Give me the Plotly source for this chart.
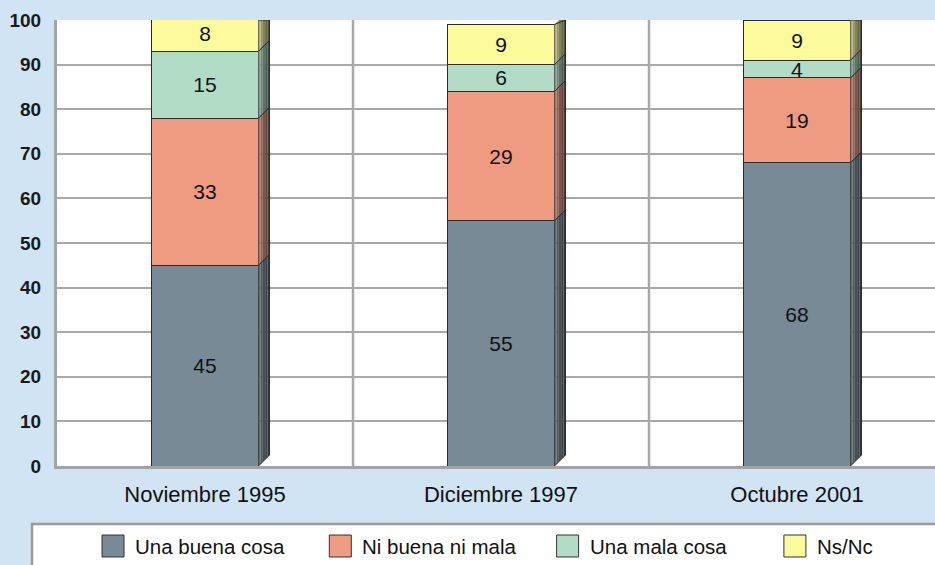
import plotly.graph_objects as go

# ---------------- data ----------------
categories = ["Noviembre 1995", "Diciembre 1997", "Octubre 2001"]
series_names = ["Una buena cosa", "Ni buena ni mala", "Una mala cosa", "Ns/Nc"]
una_buena_cosa = [45, 55, 68]
ni_buena_ni_mala = [33, 29, 19]
una_mala_cosa = [15, 6, 4]
ns_nc = [8, 9, 9]
y_ticks = [0, 10, 20, 30, 40, 50, 60, 70, 80, 90, 100]

series_values = [una_buena_cosa, ni_buena_ni_mala, una_mala_cosa, ns_nc]
colors = ["#788a95", "#ee9b82", "#b2dcc6", "#fbfb9b"]

# ---------------- geometry ----------------
FIG_W, FIG_H = 935, 565
L, T = 57, 20
W = FIG_W - L
H = 446
CAT_PX = 296.0                  # pixels per category
Y_MAX = 100
BAR_W = 107 / CAT_PX
DEPTH_PX = 11
x_lo = -0.5
x_hi = x_lo + W / CAT_PX
dx = DEPTH_PX / CAT_PX
dy = DEPTH_PX * Y_MAX / H

FONT = "Arial, Liberation Sans, Helvetica, sans-serif"


def px(xp):
    return (xp - L) / W


def py(yp):
    return (T + H - yp) / H


def hex_to_rgb(h):
    h = h.lstrip("#")
    return tuple(int(h[i:i + 2], 16) for i in (0, 2, 4))


def mix(c, dark, t):
    a = hex_to_rgb(c)
    b = hex_to_rgb(dark)
    return "rgb(%d,%d,%d)" % tuple(round(a[i] * (1 - t) + b[i] * t) for i in range(3))


fig = go.Figure()
xs = list(range(len(categories)))
for name, vals, col in zip(series_names, series_values, colors):
    fig.add_trace(go.Bar(
        x=xs, y=vals, name=name, width=BAR_W,
        marker=dict(color=col, line=dict(color="#2b2b2b", width=1)),
        text=[str(v) for v in vals], textposition="inside",
        insidetextanchor="middle", textangle=0,
        textfont=dict(family=FONT, size=21, color="#111111"),
        showlegend=False, hoverinfo="skip",
    ))

# 3D side faces
shapes = []
N_STRIPS = 5
for i in xs:
    base = 0
    xr = i + BAR_W / 2
    for vals, col in zip(series_values, colors):
        y0 = base
        y1 = base + vals[i]
        base = y1
        if y0 >= Y_MAX:
            continue
        y1c = min(y1, Y_MAX)
        for s in range(N_STRIPS):
            fa = s / N_STRIPS
            fb = (s + 1) / N_STRIPS
            xa, xb = xr + dx * fa, xr + dx * fb
            ya0, yb0 = y0 + dy * fa, y0 + dy * fb
            ya1 = min(y1c + dy * fa, Y_MAX)
            yb1 = min(y1c + dy * fb, Y_MAX)
            t = 0.3 + 0.55 * (s + 0.5) / N_STRIPS
            shapes.append(dict(
                type="path", xref="x", yref="y",
                path="M %f,%f L %f,%f L %f,%f L %f,%f Z" % (xa, ya0, xb, yb0, xb, yb1, xa, ya1),
                fillcolor=mix(col, "#262626", t), line=dict(width=0), layer="above"))
        top_r = min(y1c + dy, Y_MAX)
        shapes.append(dict(
            type="path", xref="x", yref="y",
            path="M %f,%f L %f,%f L %f,%f L %f,%f" % (xr, y1c, xr + dx, top_r, xr + dx, y0 + dy, xr, y0),
            line=dict(color="#2b2b2b", width=1), layer="above"))

# legend box
shapes.append(dict(type="rect", xref="paper", yref="paper",
                   x0=px(32), x1=px(960), y0=py(590), y1=py(524),
                   fillcolor="white", line=dict(color="#9a9a9a", width=2.5), layer="above"))
annotations = []
for k, (name, col) in enumerate(zip(series_names, colors)):
    sx = 102 + k * 227.3
    shapes.append(dict(type="rect", xref="paper", yref="paper",
                       x0=px(sx), x1=px(sx + 22), y0=py(557), y1=py(535),
                       fillcolor=col, line=dict(color="#333333", width=1), layer="above"))
    annotations.append(dict(xref="paper", yref="paper", x=px(sx + 31), y=py(546),
                            xanchor="left", yanchor="middle", showarrow=False,
                            text=name, font=dict(family=FONT, size=20.5, color="#111111")))

fig.update_layout(
    width=FIG_W, height=FIG_H,
    margin=dict(l=L, r=0, t=T, b=FIG_H - T - H, pad=0),
    paper_bgcolor="#d0e4f3", plot_bgcolor="white",
    barmode="stack", bargap=0,
    shapes=shapes, annotations=annotations,
    uniformtext=dict(minsize=21, mode="show"),
    showlegend=False,
)
fig.update_xaxes(
    range=[x_lo, x_hi], tickmode="array", tickvals=xs, ticktext=categories,
    showgrid=False, showline=True, linecolor="#a3a3a3", linewidth=3,
    ticks="", ticklabelstandoff=7, zeroline=False,
    tickfont=dict(family=FONT, size=22, color="#111111"),
)
fig.update_yaxes(
    range=[0, Y_MAX], tickvals=y_ticks, showgrid=True, gridcolor="#a8a8a8", gridwidth=2,
    showline=True, linecolor="#a3a3a3", linewidth=3, ticks="", zeroline=False,
    ticklabelstandoff=9,
    tickfont=dict(family=FONT, size=19, color="#1a1a1a", weight="bold"),
)
# vertical grid lines at category boundaries
for b in [i + 0.5 for i in xs]:
    fig.add_vline(x=b, line=dict(color="#a8a8a8", width=2.5), layer="below")

fig.write_html("out.html",
               config={"displayModeBar": False, "staticPlot": True},
               post_script="document.body.style.margin='0';document.body.style.overflow='hidden';")
